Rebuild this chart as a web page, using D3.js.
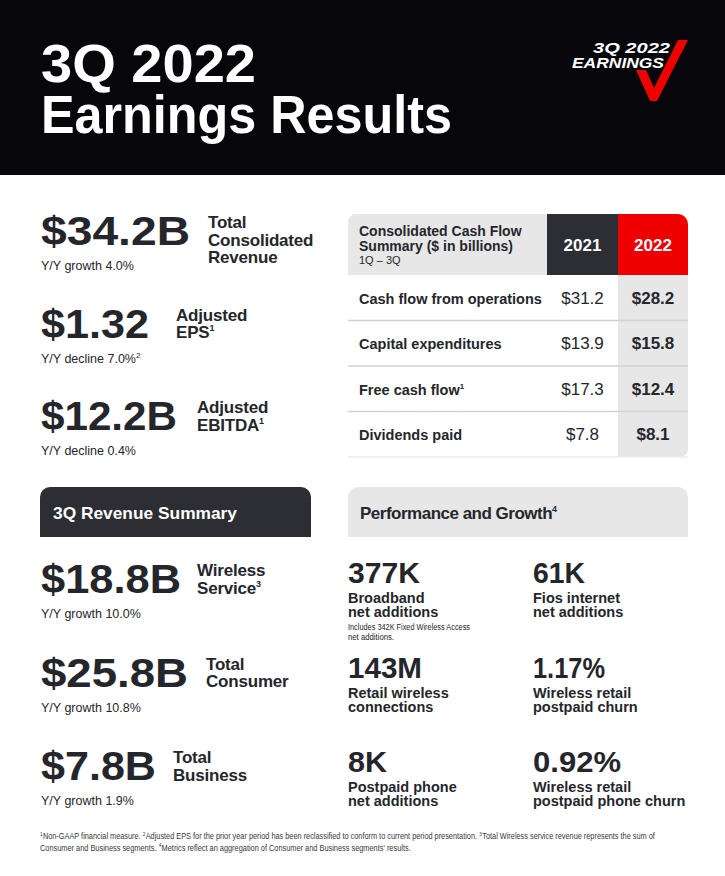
<!DOCTYPE html>
<html><head><meta charset="utf-8">
<script src="https://cdn.jsdelivr.net/npm/d3@7"></script>
<style>body{margin:0;background:#fff}svg{display:block}text{font-family:"Liberation Sans",Arial,Helvetica,sans-serif}</style>
</head><body><svg id="c" width="725" height="876"></svg>
<script>
// ---------- data ----------
const titleLines = ["3Q 2022", "Earnings Results"];
const logoLines = ["3Q 2022", "EARNINGS"];

const headlineValues = ["$34.2B", "$1.32", "$12.2B"];
const headlineLabels = [["Total", "Consolidated", "Revenue"], ["Adjusted", "EPS"], ["Adjusted", "EBITDA"]];
const headlineSup = ["", "1", "1"];
const headlineChanges = ["Y/Y growth 4.0%", "Y/Y decline 7.0%", "Y/Y decline 0.4%"];
const headlineChangeSup = ["", "2", ""];

const revenueTitle = "3Q Revenue Summary";
const revenueValues = ["$18.8B", "$25.8B", "$7.8B"];
const revenueLabels = [["Wireless", "Service"], ["Total", "Consumer"], ["Total", "Business"]];
const revenueSup = ["3", "", ""];
const revenueChanges = ["Y/Y growth 10.0%", "Y/Y growth 10.8%", "Y/Y growth 1.9%"];

const cashTitle = ["Consolidated Cash Flow", "Summary ($ in billions)"];
const cashPeriod = "1Q \u2013 3Q";
const cashYears = ["2021", "2022"];
const cashRows = ["Cash flow from operations", "Capital expenditures", "Free cash flow", "Dividends paid"];
const cashRowSup = ["", "", "1", ""];
const cash2021 = [31.2, 13.9, 17.3, 7.8];
const cash2022 = [28.2, 15.8, 12.4, 8.1];

const perfTitle = "Performance and Growth";
const perfValues = ["377K", "61K", "143M", "1.17%", "8K", "0.92%"];
const perfLabels = [["Broadband", "net additions"], ["Fios internet", "net additions"],
  ["Retail wireless", "connections"], ["Wireless retail", "postpaid churn"],
  ["Postpaid phone", "net additions"], ["Wireless retail", "postpaid phone churn"]];
const perfNote = ["Includes 342K Fixed Wireless Access", "net additions."];

const footnotes = [
  ["1", "Non-GAAP financial measure. ", "2", "Adjusted EPS for the prior year period has been reclassified to conform to current period presentation. ", "3", "Total Wireless service revenue represents the sum of"],
  ["", "Consumer and Business segments. ", "4", "Metrics reflect an aggregation of Consumer and Business segments' results."]
];

// ---------- style ----------
const INK = "#24262b", DARK = "#2c2e33", RED = "#ee0000", LIGHT = "#e7e7e7", BLACK = "#06060b";
const svg = d3.select("#c");

function topRounded(x, y, w, h, rl, rr) {
  const p = d3.path();
  p.moveTo(x, y + h); p.lineTo(x, y + rl);
  p.arcTo(x, y, x + rl, y, rl);
  p.lineTo(x + w - rr, y);
  p.arcTo(x + w, y, x + w, y + rr, rr);
  p.lineTo(x + w, y + h); p.closePath();
  return p.toString();
}
function addSup(t, s, size, dy) {
  if (!s) return;
  t.append("tspan").text(s).attr("font-size", size).attr("dy", dy);
}

// ---------- header ----------
svg.append("rect").attr("x", 0).attr("y", 0).attr("width", 725).attr("height", 175).attr("fill", BLACK);
const titleY = d3.scaleLinear().domain([0, 1]).range([82, 133]);
const titleW = [215, 411];
svg.append("text").attr("fill", "#fff").attr("font-size", 54).attr("font-weight", 700)
  .selectAll("tspan").data(titleLines).join("tspan")
  .attr("x", 41).attr("y", (d, i) => titleY(i))
  .attr("textLength", (d, i) => titleW[i]).attr("lengthAdjust", "spacingAndGlyphs").text(d => d);

// logo
const logoX = [593, 572], logoW = [77, 92];
const logoY = d3.scaleLinear().domain([0, 1]).range([53, 68]);
svg.append("path").attr("fill", RED)
  .attr("d", d3.line()([[636, 70], [646, 70], [654, 88], [678, 40], [688, 40], [657, 101], [650, 101]]) + "Z");
svg.append("text").attr("fill", "#fff").attr("font-size", 15.5).attr("font-weight", 700).attr("font-style", "italic")
  .selectAll("tspan").data(logoLines).join("tspan")
  .attr("x", (d, i) => logoX[i]).attr("y", (d, i) => logoY(i))
  .attr("textLength", (d, i) => logoW[i]).attr("lengthAdjust", "spacingAndGlyphs").text(d => d);

// ---------- KPI blocks ----------
function kpiBlock(values, labels, sups, changes, changeSups, yr, numW, labelX, changeOff) {
  const y = d3.scaleLinear().domain([0, values.length - 1]).range(yr);
  values.forEach((v, i) => {
    svg.append("text").attr("x", 41).attr("y", y(i)).attr("fill", INK)
      .attr("font-size", 40).attr("font-weight", 700)
      .attr("textLength", numW[i]).attr("lengthAdjust", "spacingAndGlyphs").text(v);
    const n = labels[i].length;
    labels[i].forEach((l, j) => {
      const t = svg.append("text").attr("x", labelX[i]).attr("y", y(i) - 17 + j * 17.5)
        .attr("fill", INK).attr("font-size", 17).attr("font-weight", 700).attr("letter-spacing", -0.2).text(l);
      if (j === n - 1) addSup(t, sups[i], 9, -7);
    });
    const c = svg.append("text").attr("x", 41).attr("y", y(i) + changeOff).attr("fill", INK)
      .attr("font-size", 12.5).text(changes[i]);
    if (changeSups) addSup(c, changeSups[i], 8, -5);
  });
}
kpiBlock(headlineValues, headlineLabels, headlineSup, headlineChanges, headlineChangeSup,
  [245, 430], [149, 108, 136], [208, 176, 197], 25);

// revenue summary header
svg.append("path").attr("d", topRounded(40, 487, 271, 50, 10, 10)).attr("fill", DARK);
svg.append("text").attr("x", 53).attr("y", 519).attr("fill", "#fff").attr("font-size", 17)
  .attr("font-weight", 700).attr("textLength", 184).attr("lengthAdjust", "spacingAndGlyphs").text(revenueTitle);
kpiBlock(revenueValues, revenueLabels, revenueSup, revenueChanges, null,
  [593, 780], [140, 147, 115], [197, 206, 173], 25);

// ---------- cash flow table ----------
const tx = 348, tw = 340, headTop = 214, headBot = 275, tBot = 457;
const colX = d3.scaleOrdinal().domain(["label", "2021", "2022"]).range([348, 547, 618]);
const colW = { label: 199, "2021": 71, "2022": 70 };
const rowY = d3.scaleBand().domain(cashRows).range([headBot, tBot]);

const p22 = d3.path();
p22.moveTo(colX("2022"), headBot); p22.lineTo(tx + tw, headBot); p22.lineTo(tx + tw, tBot - 8);
p22.arcTo(tx + tw, tBot, tx + tw - 8, tBot, 8); p22.lineTo(colX("2022"), tBot); p22.closePath();
svg.append("path").attr("d", p22.toString()).attr("fill", LIGHT);

svg.append("path").attr("d", topRounded(colX("label"), headTop, colW.label, headBot - headTop, 8, 0)).attr("fill", LIGHT);
svg.append("rect").attr("x", colX("2021")).attr("y", headTop).attr("width", colW["2021"]).attr("height", headBot - headTop).attr("fill", DARK);
svg.append("path").attr("d", topRounded(colX("2022"), headTop, colW["2022"], headBot - headTop, 0, 10)).attr("fill", RED);

cashTitle.forEach((l, i) => {
  svg.append("text").attr("x", 359).attr("y", 236 + i * 14.5).attr("fill", INK)
    .attr("font-size", 14).attr("font-weight", 700).text(l);
});
svg.append("text").attr("x", 359).attr("y", 264).attr("fill", INK).attr("font-size", 11).text(cashPeriod);
cashYears.forEach(yv => {
  svg.append("text").attr("x", colX(yv) + colW[yv] / 2).attr("y", 251).attr("text-anchor", "middle")
    .attr("fill", "#fff").attr("font-size", 17).attr("font-weight", 700).text(yv);
});

svg.selectAll("line.sep").data(cashRows).join("line").attr("class", "sep")
  .attr("x1", tx).attr("x2", tx + tw)
  .attr("y1", d => rowY(d) + rowY.bandwidth()).attr("y2", d => rowY(d) + rowY.bandwidth())
  .attr("stroke", (d, i) => i === cashRows.length - 1 ? "#ececec" : "#d2d2d2").attr("stroke-width", 1.5);

const fmt = v => "$" + d3.format(".1f")(v);
cashRows.forEach((r, i) => {
  const yb = rowY(r) + 28.5;
  const t = svg.append("text").attr("x", 359).attr("y", yb).attr("fill", INK)
    .attr("font-size", 14.5).attr("font-weight", 700).text(r);
  addSup(t, cashRowSup[i], 8, -6);
  svg.append("text").attr("x", colX("2021") + colW["2021"] / 2).attr("y", yb).attr("text-anchor", "middle")
    .attr("fill", INK).attr("font-size", 17).text(fmt(cash2021[i]));
  svg.append("text").attr("x", colX("2022") + colW["2022"] / 2).attr("y", yb).attr("text-anchor", "middle")
    .attr("fill", INK).attr("font-size", 17).attr("font-weight", 700).text(fmt(cash2022[i]));
});

// ---------- performance and growth ----------
svg.append("path").attr("d", topRounded(348, 487, 340, 50, 10, 10)).attr("fill", LIGHT);
const pt = svg.append("text").attr("x", 360).attr("y", 519).attr("fill", INK).attr("font-size", 17)
  .attr("font-weight", 700).attr("letter-spacing", -0.5).text(perfTitle);
addSup(pt, "4", 9, -7);

const pcol = d3.scalePoint().domain([0, 1]).range([348, 533]);
const prow = d3.scaleLinear().domain([0, 2]).range([583, 772]);
const perfW = [72, 52, 74, 72, 39, 88];
perfValues.forEach((v, i) => {
  const cx = pcol(i % 2), cy = prow(Math.floor(i / 2));
  svg.append("text").attr("x", cx).attr("y", cy).attr("fill", INK).attr("font-size", 29.5)
    .attr("font-weight", 700).attr("textLength", perfW[i]).attr("lengthAdjust", "spacingAndGlyphs").text(v);
  perfLabels[i].forEach((l, j) => {
    svg.append("text").attr("x", cx).attr("y", cy + 20 + j * 14.3).attr("fill", INK)
      .attr("font-size", 14.5).attr("font-weight", 700).text(l);
  });
});
const noteW = [122, 46];
perfNote.forEach((l, j) => {
  svg.append("text").attr("x", 348).attr("y", 630 + j * 10).attr("fill", INK).attr("font-size", 8.5)
    .attr("textLength", noteW[j]).attr("lengthAdjust", "spacingAndGlyphs").text(l);
});

// ---------- footnotes ----------
const footW = [615, 371];
footnotes.forEach((parts, k) => {
  const g = svg.append("g");
  let x = 0;
  parts.forEach((p, j) => {
    if (!p) return;
    const sup = j % 2 === 0;
    const t = g.append("text").attr("x", x).attr("y", sup ? -3.5 : 0).attr("fill", "#35373b")
      .attr("font-size", sup ? 5.5 : 8.5).text(p).attr("xml:space", "preserve");
    x += t.node().getComputedTextLength() + (sup ? 0.3 : 0);
  });
  const sx = footW[k] / x;
  g.attr("transform", `translate(40,${839 + k * 11.5}) scale(${sx},1)`);
});
</script></body></html>
